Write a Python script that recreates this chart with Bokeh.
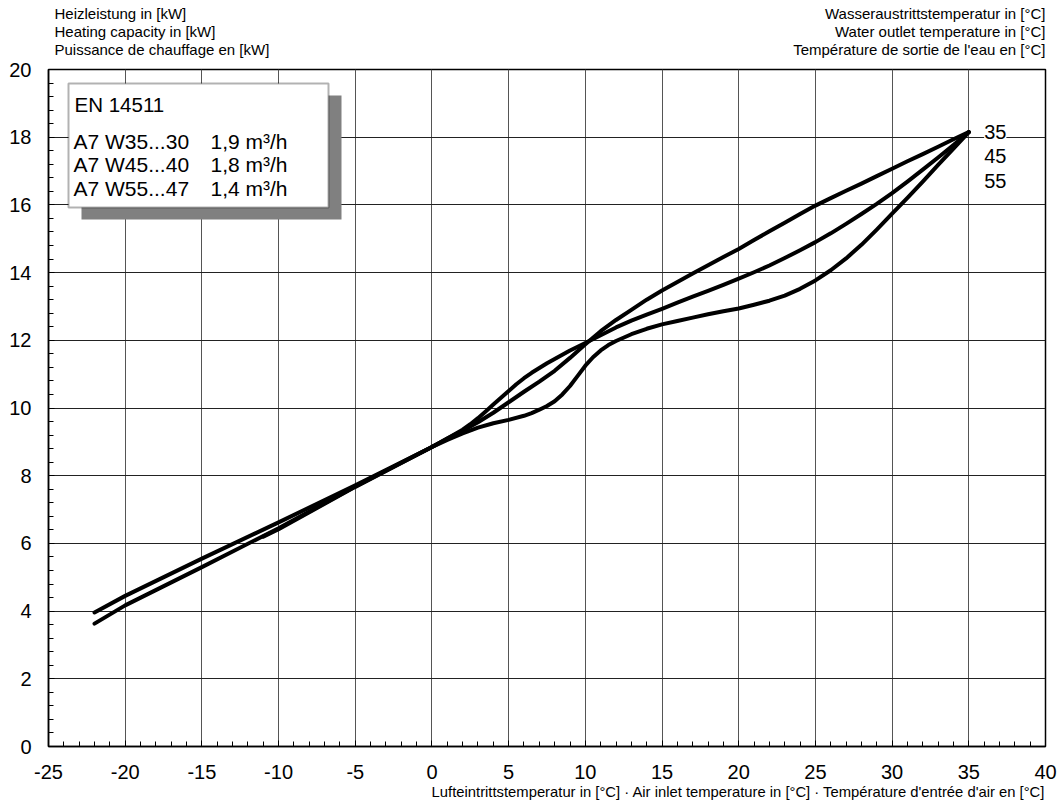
from bokeh.plotting import figure
from bokeh.layouts import column
from bokeh.models import Range1d, SingleIntervalTicker, Label, BoxAnnotation, ColumnDataSource, Title
from bokeh.embed import file_html
from bokeh.resources import INLINE

# ---- data ----
x_ticks = [-25, -20, -15, -10, -5, 0, 5, 10, 15, 20, 25, 30, 35, 40]
y_ticks = [0, 2, 4, 6, 8, 10, 12, 14, 16, 18, 20]

series_names = ["35", "45", "55"]

air_35 = [-22, -20, -15, -10, -5, 0, 1, 2, 3, 4, 5, 6, 7, 8, 9, 10, 11, 12, 13, 14, 15, 16, 17, 18, 19, 20,
          21, 22, 23, 24, 25, 26, 27, 28, 29, 30, 31, 32, 33, 34, 35]
cap_35 = [3.96, 4.45, 5.55, 6.62, 7.72, 8.85, 9.1, 9.33, 9.58, 9.86, 10.17, 10.48, 10.78, 11.1, 11.48, 11.88, 12.27,
          12.6, 12.9, 13.2, 13.47, 13.72, 13.97, 14.22, 14.46, 14.7, 14.96, 15.22, 15.47, 15.73, 15.98, 16.2, 16.42,
          16.63, 16.85, 17.07, 17.29, 17.5, 17.72, 17.94, 18.15]

air_45 = [-22, -20, -15, -10, -5, 0, 1, 2, 2.5, 3, 3.5, 4, 4.5, 5, 5.5, 6, 6.5, 7, 7.5, 8, 9, 10, 11, 12, 13, 14, 15,
          16, 17, 18, 19, 20, 21, 22, 23, 24, 25, 26, 27, 28, 29, 30, 31, 32, 33, 34, 35]
cap_45 = [3.63, 4.17, 5.3, 6.45, 7.68, 8.85, 9.1, 9.36, 9.52, 9.7, 9.9, 10.1, 10.3, 10.5, 10.7, 10.88, 11.04, 11.18,
          11.32, 11.45, 11.7, 11.92, 12.15, 12.38, 12.58, 12.76, 12.93, 13.11, 13.29, 13.46, 13.64, 13.82, 14.01, 14.21,
          14.43, 14.66, 14.9, 15.16, 15.44, 15.73, 16.03, 16.35, 16.69, 17.04, 17.4, 17.77, 18.15]

air_55 = [-11, -10, -5, 0, 1, 2, 3, 4, 5, 6, 6.5, 7, 7.5, 8, 8.5, 9, 9.5, 10, 10.5, 11, 11.5, 12, 13, 14, 15, 16, 17,
          18, 19, 20, 21, 22, 23, 24, 25, 26, 27, 28, 29, 30, 31, 32, 33, 34, 35]
cap_55 = [6.2, 6.42, 7.67, 8.85, 9.06, 9.25, 9.42, 9.55, 9.65, 9.77, 9.85, 9.95, 10.06, 10.2, 10.4, 10.65, 10.95, 11.25,
          11.5, 11.7, 11.86, 11.98, 12.18, 12.34, 12.47, 12.57, 12.67, 12.77, 12.86, 12.94, 13.05, 13.17, 13.32, 13.52,
          13.77, 14.07, 14.42, 14.82, 15.27, 15.74, 16.21, 16.69, 17.18, 17.66, 18.15]

legend_title = "EN 14511"
legend_points = ["A7 W35...30", "A7 W45...40", "A7 W55...47"]
legend_flows = ["1,9 m³/h", "1,8 m³/h", "1,4 m³/h"]

y_title = ["Heizleistung in [kW]", "Heating capacity in [kW]", "Puissance de chauffage en [kW]"]
z_title = ["Wasseraustrittstemperatur in [°C]", "Water outlet temperature in [°C]", "Température de sortie de l'eau en [°C]"]
x_title = "Lufteintrittstemperatur in [°C] · Air inlet temperature in [°C] · Température d'entrée d'air en [°C]"

FONT = "Liberation Sans"

PAGE_W, PAGE_H = 1063, 809
HEAD_H = 58
FRAME_L, FRAME_R, FRAME_T, FRAME_B = 48, 1045, 69, 746   # page pixels

# ---- header strip (axis titles above the chart); its frame is aligned with the chart frame ----
hdr = figure(width=PAGE_W, height=HEAD_H, output_backend="svg", toolbar_location=None,
             x_range=Range1d(FRAME_L, FRAME_R), y_range=Range1d(0, HEAD_H),
             x_axis_location=None, y_axis_location=None, min_border=0,
             min_border_left=FRAME_L, min_border_right=PAGE_W - FRAME_R)
hdr.outline_line_color = None
hdr.grid.visible = False
for i, t in enumerate(y_title):
    hdr.add_layout(Label(x=54, y=HEAD_H - (12.5 + i * 18.1), text=t, text_font=FONT, text_font_size="15px",
                         text_color="black", text_baseline="middle", text_align="left"))
for i, t in enumerate(z_title):
    hdr.add_layout(Label(x=1045, y=HEAD_H - (12.5 + i * 18.1), text=t, text_font=FONT, text_font_size="15px",
                         text_color="black", text_baseline="middle", text_align="right"))

# ---- main chart ----
H = PAGE_H - HEAD_H
p = figure(width=PAGE_W, height=H, output_backend="svg", toolbar_location=None,
           x_range=Range1d(-25, 40), y_range=Range1d(0, 20),
           min_border_left=FRAME_L, min_border_right=PAGE_W - FRAME_R,
           min_border_top=FRAME_T - HEAD_H, min_border_bottom=PAGE_H - FRAME_B)
p.background_fill_color = "white"
p.border_fill_color = "white"
p.outline_line_color = "black"
p.outline_line_width = 1.5

p.xaxis.ticker = SingleIntervalTicker(interval=5, num_minor_ticks=5)
p.yaxis.ticker = SingleIntervalTicker(interval=2, num_minor_ticks=5)
p.xaxis.major_label_overrides = {t: str(t) for t in x_ticks}
p.yaxis.major_label_overrides = {t: str(t) for t in y_ticks}

for ax in (p.xaxis[0], p.yaxis[0]):
    ax.axis_line_color = "black"
    ax.axis_line_width = 1.5
    ax.major_tick_in = 6
    ax.major_tick_out = 0
    ax.minor_tick_in = 5
    ax.minor_tick_out = 0
    ax.major_tick_line_color = "black"
    ax.minor_tick_line_color = "black"
    ax.major_label_text_font = FONT
    ax.major_label_text_font_size = "20px"
    ax.major_label_text_color = "black"
p.xaxis.major_label_standoff = 18
p.yaxis.major_label_standoff = 17

p.add_layout(Title(text=x_title, align="right", text_font=FONT, text_font_size="14.8px",
                   text_font_style="normal", text_color="black", standoff=0), "below")

p.xgrid.grid_line_color = "#555555"
p.xgrid.grid_line_width = 1
p.ygrid.grid_line_color = "#222222"
p.ygrid.grid_line_width = 1

for xs, ys in [(air_35, cap_35), (air_45, cap_45), (air_55, cap_55)]:
    src = ColumnDataSource(dict(x=xs, y=ys))
    p.line("x", "y", source=src, line_color="black", line_width=4,
           line_join="round", line_cap="round")

# series labels at the right end of the curves
end_y = cap_35[-1]
for i, name in enumerate(series_names):
    p.add_layout(Label(x=36.0, y=end_y - i * 0.72, text=name, text_font=FONT, text_color="black",
                       text_font_size="20px", text_baseline="middle", text_align="left",
                       background_fill_color="white", background_fill_alpha=1.0))

# page -> frame screen coordinates (frame bottom-left origin)
def sx(px):
    return px - FRAME_L

def sy(py):
    return FRAME_B - py

# legend box with shadow
p.add_layout(BoxAnnotation(left=sx(81), right=sx(341), top=sy(95), bottom=sy(219),
                           left_units="screen", right_units="screen", top_units="screen", bottom_units="screen",
                           fill_color="#808080", fill_alpha=1.0, line_color=None))
p.add_layout(BoxAnnotation(left=sx(68), right=sx(328), top=sy(83), bottom=sy(207),
                           left_units="screen", right_units="screen", top_units="screen", bottom_units="screen",
                           fill_color="white", fill_alpha=1.0, line_color="black", line_width=2))
p.add_layout(Label(x=sx(74), y=sy(103.5), x_units="screen", y_units="screen", text=legend_title, text_color="black",
                   text_font=FONT, text_font_size="20.5px", text_baseline="middle"))
for i, (a, b) in enumerate(zip(legend_points, legend_flows)):
    yc = sy(140.5 + i * 23.7)
    p.add_layout(Label(x=sx(73), y=yc, x_units="screen", y_units="screen", text=a, text_color="black",
                       text_font=FONT, text_font_size="21px", text_baseline="middle"))
    p.add_layout(Label(x=sx(210), y=yc, x_units="screen", y_units="screen", text=b, text_color="black",
                       text_font=FONT, text_font_size="21px", text_baseline="middle"))

layout = column(hdr, p, spacing=0)
open("out.html", "w").write(file_html(layout, INLINE))
